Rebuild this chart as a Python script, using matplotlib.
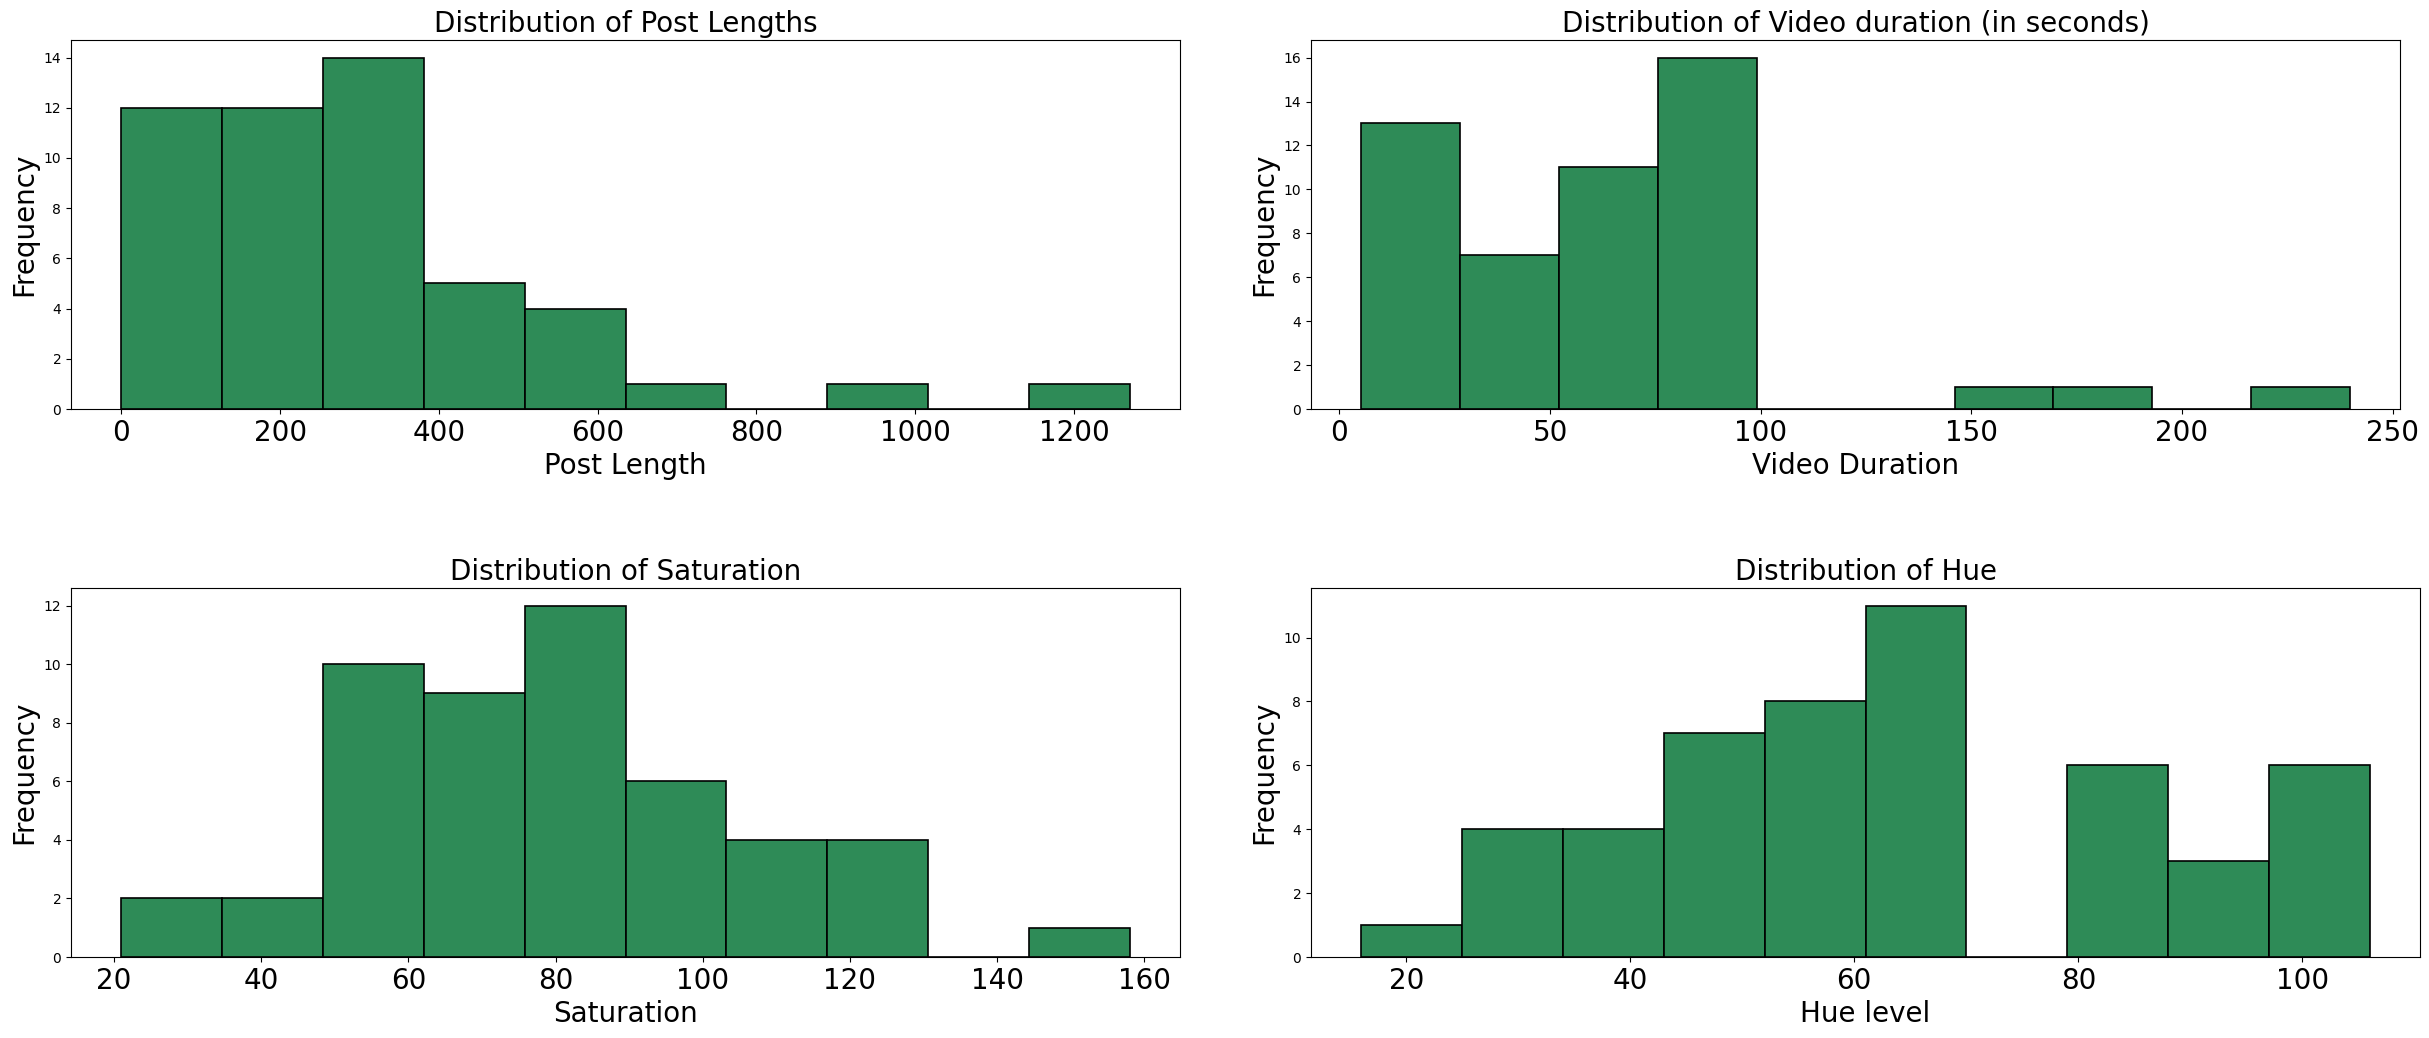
import numpy as np
import matplotlib
matplotlib.use("Agg")
import matplotlib.pyplot as plt

# bin edges (lo, hi) and counts per panel, 10 equal bins each
post_edges = (0, 1270)
post_counts = [12, 12, 14, 5, 4, 1, 0, 1, 0, 1]

video_edges = (5, 240)
video_counts = [13, 7, 11, 16, 0, 0, 1, 1, 0, 1]

sat_edges = (21, 158)
sat_counts = [2, 2, 10, 9, 12, 6, 4, 4, 0, 1]

hue_edges = (16, 106)
hue_counts = [1, 4, 4, 7, 8, 11, 0, 6, 3, 6]

panels = [
    ("Distribution of Post Lengths", "Post Length", post_edges, post_counts),
    ("Distribution of Video duration (in seconds)", "Video Duration", video_edges, video_counts),
    ("Distribution of Saturation", "Saturation", sat_edges, sat_counts),
    ("Distribution of Hue", "Hue level", hue_edges, hue_counts),
]

# axes boxes in figure fractions (the top-right one is a bit narrower, as in the original)
boxes = [
    [0.02923, 0.60597, 0.45657, 0.35549],
    [0.53973, 0.60597, 0.44833, 0.35549],
    [0.02923, 0.07803, 0.45657, 0.35549],
    [0.53973, 0.07803, 0.45657, 0.35549],
]

fig = plt.figure(figsize=(24.29, 10.38), dpi=100)

for box, (title, xlabel, edges, counts) in zip(boxes, panels):
    ax = fig.add_axes(box)
    bins = np.linspace(edges[0], edges[1], len(counts) + 1)
    centers = (bins[:-1] + bins[1:]) / 2
    ax.hist(centers, bins=bins, weights=counts, color="seagreen", edgecolor="black", linewidth=1.2)
    ax.set_title(title, fontsize=20)
    ax.set_xlabel(xlabel, fontsize=20)
    ax.set_ylabel("Frequency", fontsize=20)
    ax.tick_params(axis="x", labelsize=20)
    ax.tick_params(axis="y", labelsize=10)

fig.savefig("out.png", dpi=100)
